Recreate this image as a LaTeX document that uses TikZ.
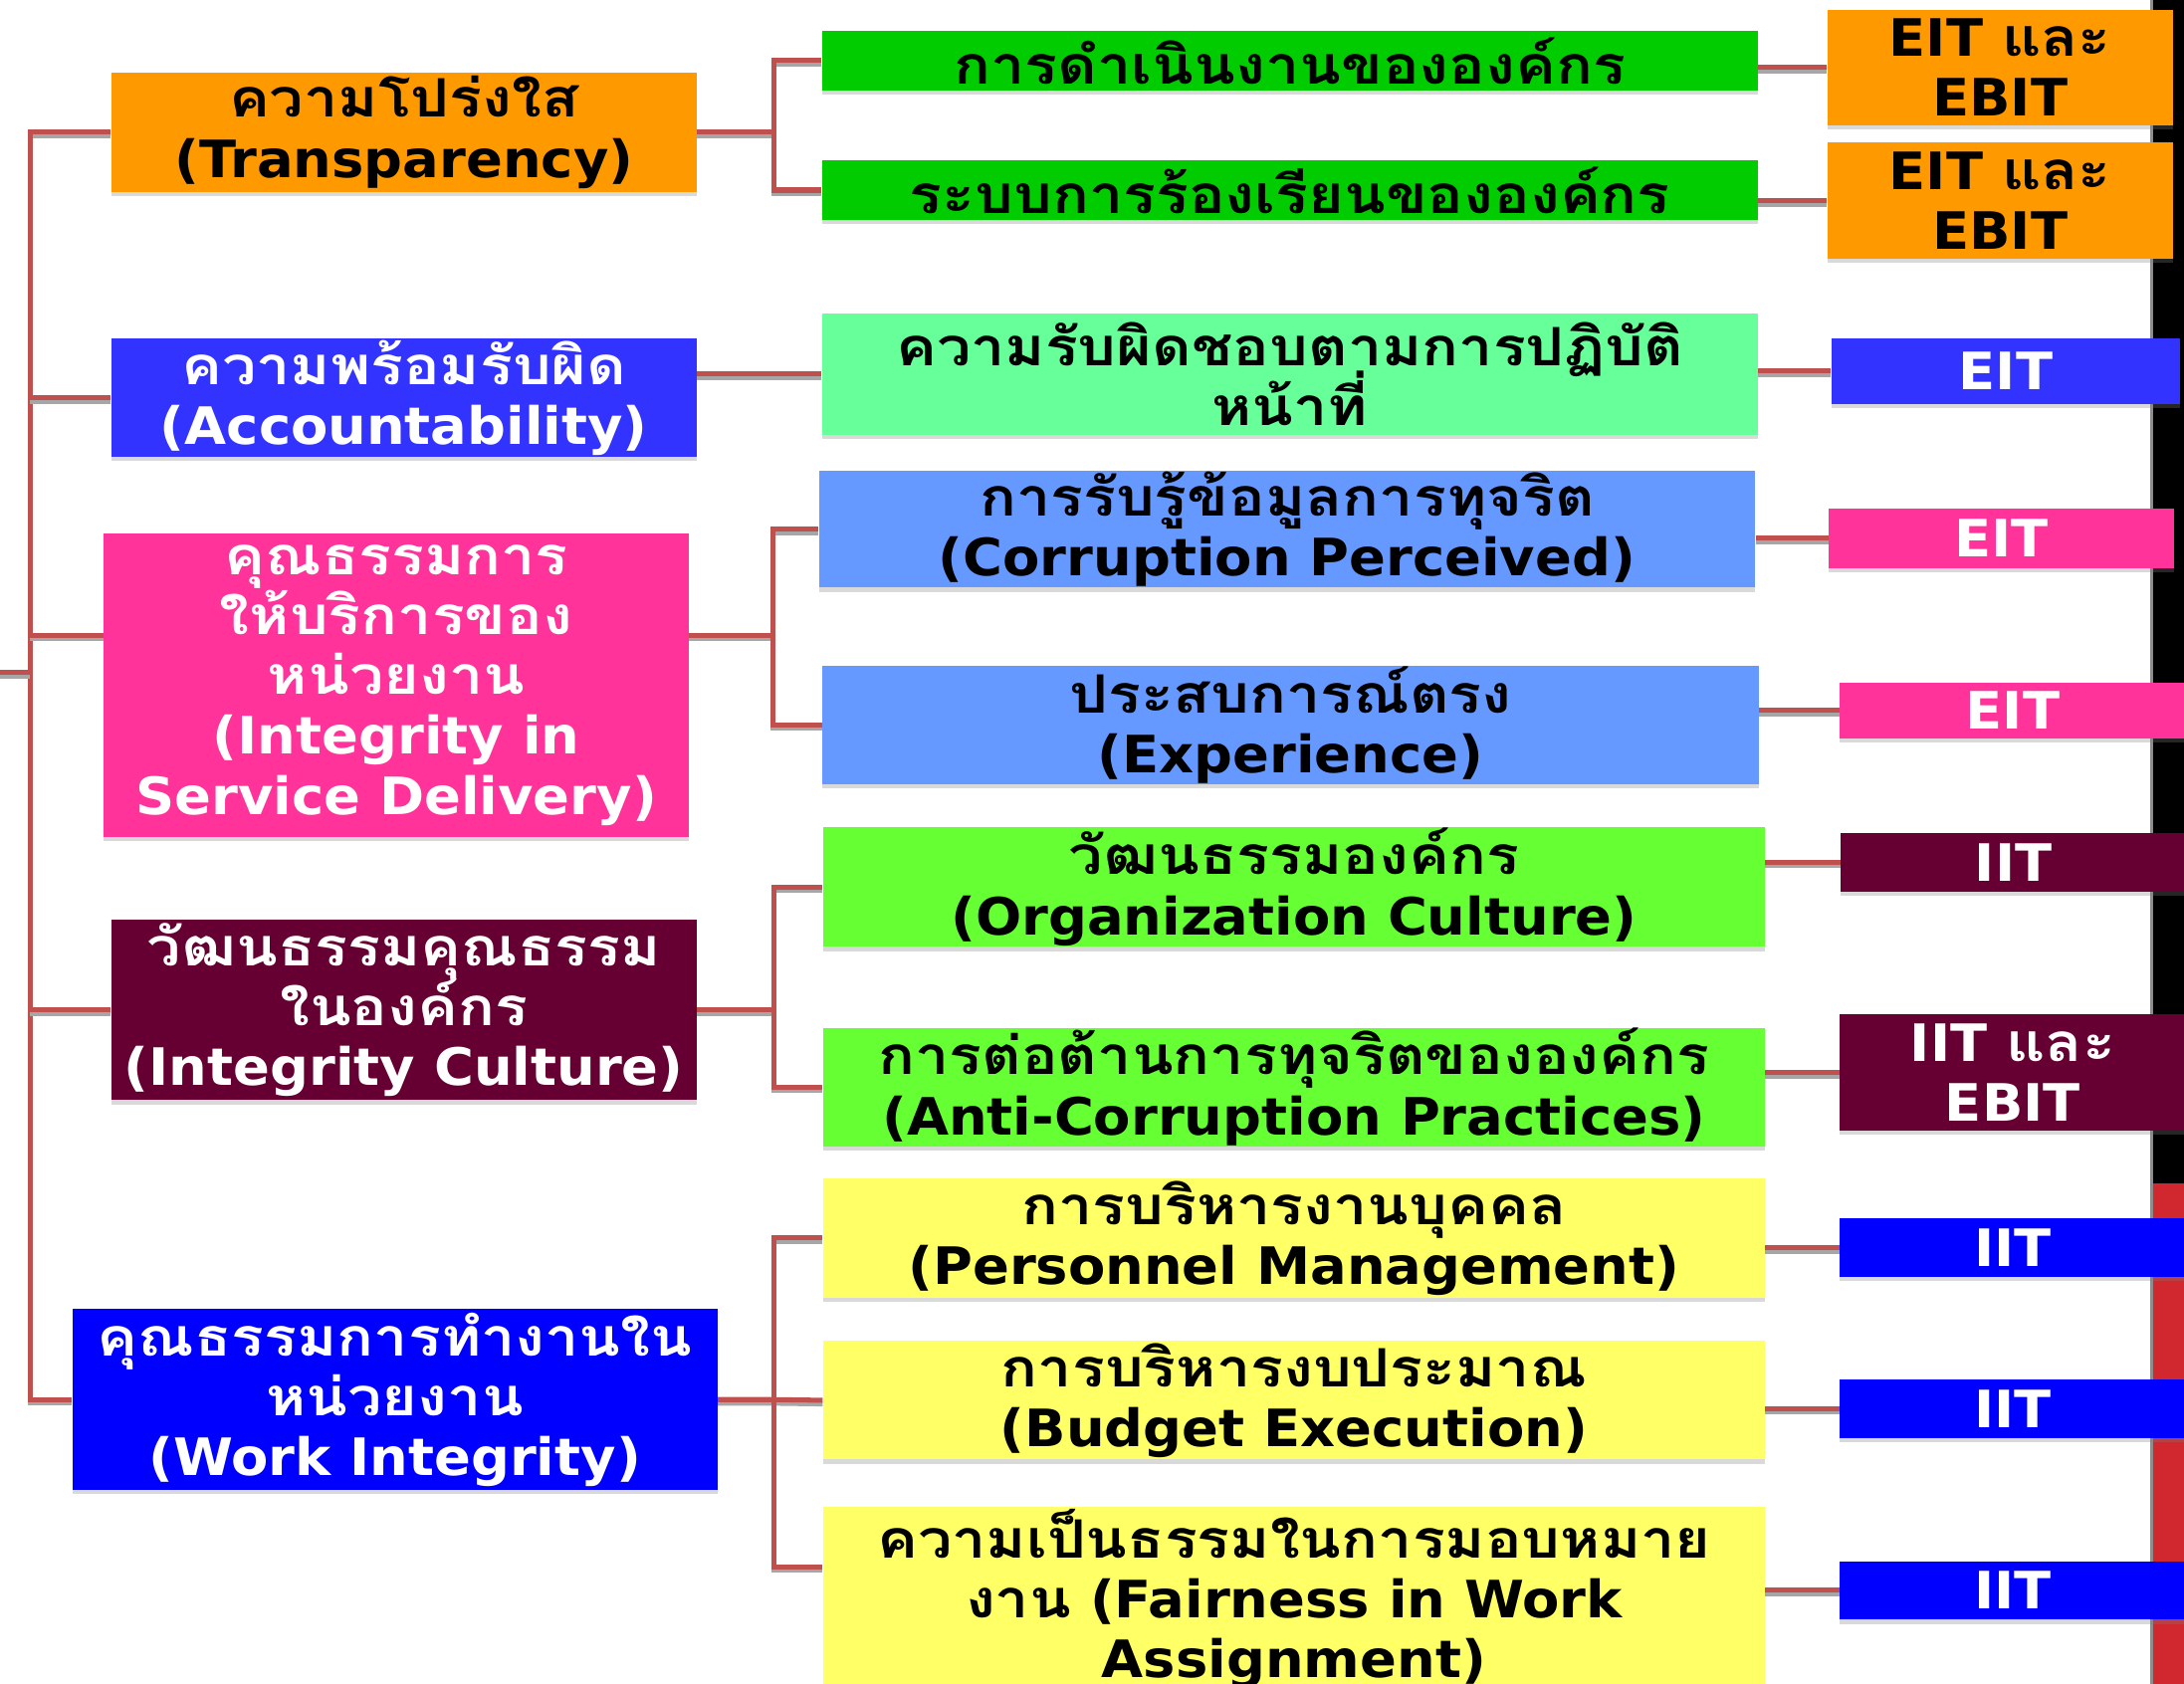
\documentclass[tikz,border=0pt]{standalone}
\usepackage{fontspec}
\setmainfont[FakeStretch=1.05]{DejaVu Sans}
\newfontfamily\thaifont[Script=Thai,FakeStretch=1.15]{Loma}
\newcommand\thai[1]{{\thaifont\fontsize{19}{21.5}\selectfont #1}}
\newcommand\tightlines{\setlength{\lineskiplimit}{-30pt}\setlength{\lineskip}{0pt}}
\usetikzlibrary{shadows}
\definecolor{orangebox}{HTML}{FF9900}
\definecolor{acctblue}{HTML}{3333FF}
\definecolor{pinkbox}{HTML}{FF3399}
\definecolor{maroonbox}{HTML}{660033}
\definecolor{workblue}{HTML}{0000FF}
\definecolor{greenbox}{HTML}{00CC00}
\definecolor{mintbox}{HTML}{66FF99}
\definecolor{skybox}{HTML}{6699FF}
\definecolor{limebox}{HTML}{66FF33}
\definecolor{yellowbox}{HTML}{FFFF66}
\definecolor{linkred}{HTML}{C0504D}
\definecolor{barred}{HTML}{D0282E}
\tikzset{
  box/.style={rectangle,inner sep=0pt,align=center,
    font=\bfseries\fontsize{18.5}{21.5}\selectfont\tightlines,
    drop shadow={shadow xshift=0pt,shadow yshift=-1.5pt,opacity=.3}},
  lvlone/.style={box,minimum width=210pt},
  lvltwo/.style={box,minimum width=336pt},
  tag/.style={box,minimum width=124pt},
  link/.style={draw=linkred,line width=1.8pt,
    preaction={draw=black!35,line width=1.8pt,transform canvas={yshift=-1.3pt}}}
}
\begin{document}
\begin{tikzpicture}[x=0.5pt,y=-0.5pt]
\useasboundingbox (0,0) rectangle (1568,1209);
\clip (0,0) rectangle (1568,1209);
% bar on the right
\fill[black] (1545,0) rectangle (1568,850);
\fill[barred] (1545,850) rectangle (1568,1209);
\draw[black!45,line width=1pt] (1545,0) -- (1545,1209);
% main groups
\node[lvlone,fill=orangebox,minimum height=43pt] (transp) at (290,95) {\thai{ความโปร่งใส}\\(Transparency)};
\node[lvlone,fill=acctblue,text=white,minimum height=42.5pt] (account) at (290,285.5) {\thai{ความพร้อมรับผิด}\\(Accountability)};
\node[lvlone,fill=pinkbox,text=white,minimum height=109pt] (service) at (284.5,492) {\thai{คุณธรรมการ}\\\thai{ให้บริการของ}\\\thai{หน่วยงาน}\\(Integrity in\\Service Delivery)};
\node[lvlone,fill=maroonbox,text=white,minimum height=65pt] (culture) at (290,725) {\thai{วัฒนธรรมคุณธรรม}\\\thai{ในองค์กร}\\(Integrity Culture)};
\node[lvlone,fill=workblue,text=white,minimum width=231.5pt,minimum height=65pt] (work) at (283.5,1005) {\thai{คุณธรรมการทำงานใน}\\\thai{หน่วยงาน}\\(Work Integrity)};
% indicators
\node[lvltwo,fill=greenbox,minimum height=21.5pt] (opera) at (926,43.5) {\thai{การดำเนินงานขององค์กร}};
\node[lvltwo,fill=greenbox,minimum height=21.5pt] (complain) at (926,136.5) {\thai{ระบบการร้องเรียนขององค์กร}};
\node[lvltwo,fill=mintbox,minimum height=43.5pt] (duty) at (926,268.5) {\thai{ความรับผิดชอบตามการปฏิบัติ}\\\thai{หน้าที่}};
\node[lvltwo,fill=skybox,minimum height=42pt] (perceive) at (924,380) {\thai{การรับรู้ข้อมูลการทุจริต}\\(Corruption Perceived)};
\node[lvltwo,fill=skybox,minimum height=42.5pt] (exper) at (926.5,520.5) {\thai{ประสบการณ์ตรง}\\(Experience)};
\node[lvltwo,fill=limebox,minimum width=338pt,minimum height=43pt] (orgcult) at (929,637) {\thai{วัฒนธรรมองค์กร}\\(Organization Culture)};
\node[lvltwo,fill=limebox,minimum width=338pt,minimum height=42.5pt] (anticorr) at (929,780.5) {\thai{การต่อต้านการทุจริตขององค์กร}\\(Anti-Corruption Practices)};
\node[lvltwo,fill=yellowbox,minimum width=338pt,minimum height=43pt] (personnel) at (929,889) {\thai{การบริหารงานบุคคล}\\(Personnel Management)};
\node[lvltwo,fill=yellowbox,minimum width=338pt,minimum height=42.5pt] (budget) at (929,1005.5) {\thai{การบริหารงบประมาณ}\\(Budget Execution)};
\node[lvltwo,fill=yellowbox,minimum width=338pt,minimum height=66pt] (fair) at (929,1148) {\thai{ความเป็นธรรมในการมอบหมาย}\\\thai{งาน} (Fairness in Work\\Assignment)};
% tools
\node[tag,fill=orangebox,minimum height=41.5pt] (tagA) at (1436,48.5) {EIT \thai{และ}\\EBIT};
\node[tag,fill=orangebox,minimum height=42pt] (tagB) at (1436,144) {EIT \thai{และ}\\EBIT};
\node[tag,fill=acctblue,text=white,minimum width=125pt,minimum height=23.5pt] (tagC) at (1440,266.5) {EIT};
\node[tag,fill=pinkbox,text=white,minimum height=21.5pt] (tagD) at (1437,386.5) {EIT};
\node[tag,fill=pinkbox,text=white,minimum height=20pt] (tagE) at (1445,510) {EIT};
\node[tag,fill=maroonbox,text=white,minimum height=21pt] (tagF) at (1445.5,619) {IIT};
\node[tag,fill=maroonbox,text=white,minimum height=42pt] (tagG) at (1445,770) {IIT \thai{และ}\\EBIT};
\node[tag,fill=workblue,text=white,minimum height=21pt] (tagH) at (1445,896) {IIT};
\node[tag,fill=workblue,text=white,minimum height=21pt] (tagI) at (1445,1011.5) {IIT};
\node[tag,fill=workblue,text=white,minimum height=21pt] (tagJ) at (1445,1142) {IIT};
% trunk on the left
\draw[link] (transp.west) -- ++(-58,0) coordinate (trunk) |- (work.west);
\draw[link] (account.west) -- (trunk |- account.west);
\coordinate (srvin) at ([yshift=18pt]service.west);
\draw[link] (srvin) -- (trunk |- srvin);
\draw[link] (culture.west) -- (trunk |- culture.west);
\coordinate (root) at (0,483);
\draw[link] (root) -- (trunk |- root);
% forks
\draw[link] (transp.east) -- ++(55,0) coordinate (forkA);
\draw[link] (opera.west) -| (forkA) |- (complain.west);
\draw[link] (account.east |- duty.west) -- (duty.west);
\coordinate (srvout) at ([yshift=18pt]service.east);
\draw[link] (srvout) -- ++(60,0) coordinate (forkB);
\draw[link] (perceive.west) -| (forkB) |- (exper.west);
\draw[link] (culture.east) -- ++(55,0) coordinate (forkC);
\draw[link] (orgcult.west) -| (forkC) |- (anticorr.west);
\draw[link] (work.east) -- ++(40,0) coordinate (forkD) -- (budget.west);
\coordinate (fairin) at ([yshift=11.5pt]fair.west);
\draw[link] (personnel.west) -| (forkD) |- (fairin);
% to the tools
\foreach \a/\b in {opera/tagA,complain/tagB,duty/tagC,perceive/tagD,exper/tagE,
  orgcult/tagF,anticorr/tagG,personnel/tagH,budget/tagI,fair/tagJ}
  \draw[link] (\a.east |- \b.west) -- (\b.west);
\end{tikzpicture}
\end{document}
